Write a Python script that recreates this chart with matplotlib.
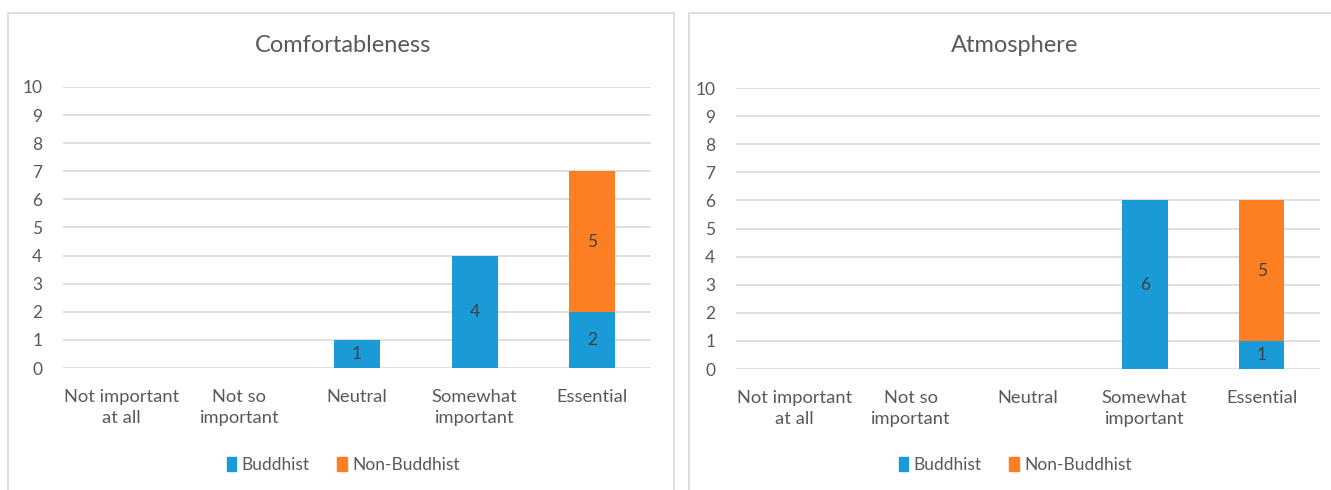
import matplotlib
matplotlib.use("Agg")
import matplotlib.pyplot as plt
from matplotlib.patches import Rectangle, Patch

plt.rcParams['font.family'] = ['Lato', 'DejaVu Sans']

categories = ["Not important\nat all", "Not so\nimportant", "Neutral", "Somewhat\nimportant", "Essential"]
titles = ["Comfortableness", "Atmosphere"]
series_names = ["Buddhist", "Non-Buddhist"]
comfort_buddhist = [0, 0, 1, 4, 2]
comfort_non_buddhist = [0, 0, 0, 0, 5]
atmos_buddhist = [0, 0, 0, 6, 1]
atmos_non_buddhist = [0, 0, 0, 0, 5]
yticks = list(range(0, 11))

BLUE = "#1a9ad6"
ORANGE = "#fd7f22"
GRID = "#d9d9d9"
TEXT = "#595959"
LABEL = "#404040"

W, H = 1331, 490
fig = plt.figure(figsize=(W / 100, H / 100), dpi=100)
fig.patch.set_facecolor("white")


def px(x0, y0, x1, y1):
    return [x0 / W, 1 - y1 / H, (x1 - x0) / W, (y1 - y0) / H]


# chart frames
for x0, x1 in [(8, 674), (689, 1340)]:
    fig.patches.append(Rectangle((x0 / W, -0.05), (x1 - x0) / W, 1.05 - 13 / H,
                                 transform=fig.transFigure, fill=False,
                                 edgecolor="#d9d9d9", linewidth=1.2))

panels = [
    (px(63, 87, 651, 368), comfort_buddhist, comfort_non_buddhist, 343),
    (px(736, 88, 1320, 369), atmos_buddhist, atmos_non_buddhist, 1015),
]

for (rect, buddhist, non_buddhist, cx), title in zip(panels, titles):
    ax = fig.add_axes(rect)
    x = list(range(len(categories)))
    ax.bar(x, buddhist, width=0.39, color=BLUE, zorder=3, label=series_names[0])
    ax.bar(x, non_buddhist, width=0.39, bottom=buddhist, color=ORANGE, zorder=3,
           label=series_names[1])
    for i, v in enumerate(buddhist):
        if v:
            ax.text(i, v / 2, str(v), ha="center", va="center", fontsize=12.5, color=LABEL, zorder=4)
    for i, v in enumerate(non_buddhist):
        if v:
            ax.text(i, buddhist[i] + v / 2, str(v), ha="center", va="center", fontsize=12.5,
                    color=LABEL, zorder=4)
    ax.set_xlim(-0.5, len(categories) - 0.5)
    ax.set_ylim(0, 10)
    ax.set_yticks(yticks)
    ax.set_xticks(x)
    ax.set_xticklabels(categories, fontsize=13.2, color=TEXT, linespacing=1.4)
    ax.tick_params(axis="y", labelsize=12.5, labelcolor=TEXT, length=0, pad=15)
    ax.tick_params(axis="x", length=0, pad=15)
    ax.yaxis.grid(True, color=GRID, linewidth=1.2, zorder=0)
    for s in ax.spines.values():
        s.set_visible(False)
    ax.set_facecolor("none")
    fig.text(cx / W, 1 - 46 / H, title, ha="center", va="center", fontsize=17, color=TEXT)
    handles = [Patch(color=BLUE), Patch(color=ORANGE)]
    fig.legend(handles, series_names, loc="center", bbox_to_anchor=(cx / W, 1 - 465 / H),
               ncol=2, frameon=False, fontsize=12.5, labelcolor=TEXT, handlelength=0.55,
               handleheight=0.8, handletextpad=0.3, columnspacing=1.6)

fig.savefig("out.png", dpi=100)
